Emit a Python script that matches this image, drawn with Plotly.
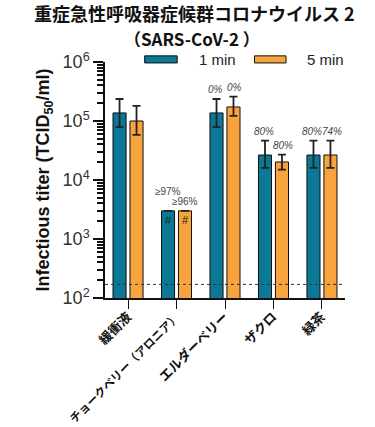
import math
import plotly.graph_objects as go

categories = ["緩衝液", "チョークベリー（アロニア）", "エルダーベリー", "ザクロ", "緑茶"]
series_names = ["1 min", "5 min"]
titer_1min = [1.37e5, 3.0e3, 1.37e5, 2.65e4, 2.65e4]
titer_5min = [1.0e5, 3.0e3, 1.73e5, 2.02e4, 2.65e4]
err_hi_1min = [2.36e5, None, 2.36e5, 4.65e4, 4.65e4]
err_lo_1min = [7.9e4, None, 7.9e4, 1.6e4, 1.6e4]
err_hi_5min = [1.8e5, None, 2.58e5, 2.7e4, 4.65e4]
err_lo_5min = [5.8e4, None, 1.22e5, 1.5e4, 1.6e4]
pct_1min = ["", "≥97%", "0%", "80%", "80%"]
pct_5min = ["", "≥96%", "0%", "80%", "74%"]
bar_marks_1min = ["", "#", "", "", ""]
bar_marks_5min = ["", "#", "", "", ""]
detection_limit = 170
ytick_vals = [1e2, 1e3, 1e4, 1e5, 1e6]
ytick_text = ["10<sup>2</sup>", "10<sup>3</sup>", "10<sup>4</sup>", "10<sup>5</sup>", "10<sup>6</sup>"]
title_line1 = "重症急性呼吸器症候群コロナウイルス 2"
title_line2 = "（SARS-CoV-2 ）"

teal = "#0B7895"
orange = "#F8A33C"

def errs(vals, hi, lo):
    plus = [(h - v) if h is not None else 0 for v, h in zip(vals, hi)]
    minus = [(v - l) if l is not None else 0 for v, l in zip(vals, lo)]
    return plus, minus

fig = go.Figure()
for name, vals, hi, lo, col in [
    (series_names[0], titer_1min, err_hi_1min, err_lo_1min, teal),
    (series_names[1], titer_5min, err_hi_5min, err_lo_5min, orange),
]:
    plus, minus = errs(vals, hi, lo)
    fig.add_trace(go.Bar(
        x=categories, y=vals, name=name,
        marker=dict(color=col, line=dict(color="#111111", width=1)),
        error_y=dict(type="data", symmetric=False, array=plus, arrayminus=minus,
                     color="#222222", thickness=1.8, width=4),
        showlegend=False,
    ))

# percentage annotations and "#" marks
for vals, hi, pcts, marks, off, xs in [
    (titer_1min, err_hi_1min, pct_1min, bar_marks_1min, -0.175, -1.5),
    (titer_5min, err_hi_5min, pct_5min, bar_marks_5min, 0.175, 1.5),
]:
    for i, (v, h, p, m) in enumerate(zip(vals, hi, pcts, marks)):
        y = h if h is not None else v
        if p:
            ge = p.startswith("≥")
            shift = 2
            if p == "≥97%":
                shift = 12
            fig.add_annotation(
                x=i + off, y=math.log10(y), text=p if ge else "<i>" + p + "</i>",
                showarrow=False, yanchor="bottom", yshift=shift, xshift=0 if ge else xs,
                font=dict(family="Arial", size=10, color="#444444"),
            )
        if m:
            fig.add_annotation(
                x=i + off, y=math.log10(v), text=m, showarrow=False,
                yanchor="top", yshift=-1,
                font=dict(family="Arial", size=11, color="#222222"),
            )

fig.add_hline(y=detection_limit, line=dict(color="#333333", width=1, dash="dot"))

# custom legend
fig.add_shape(type="rect", xref="paper", yref="paper", x0=(144 - 105) / 236, x1=(176 - 105) / 236,
              y0=0.996, y1=1.026, fillcolor=teal, line=dict(color="#111111", width=1))
fig.add_shape(type="rect", xref="paper", yref="paper", x0=(252 - 105) / 236, x1=(283 - 105) / 236,
              y0=0.996, y1=1.026, fillcolor=orange, line=dict(color="#111111", width=1))
fig.add_annotation(xref="paper", yref="paper", x=(195 - 105) / 236, y=1.01, text=series_names[0],
                   showarrow=False, xanchor="left", yanchor="middle",
                   font=dict(family="Arial", size=15, color="#222222"))
fig.add_annotation(xref="paper", yref="paper", x=(302 - 105) / 236, y=1.01, text=series_names[1],
                   showarrow=False, xanchor="left", yanchor="middle",
                   font=dict(family="Arial", size=15, color="#222222"))

# title lines
fig.add_annotation(xref="paper", yref="paper", x=(193 - 105) / 236, y=1 + (62 - 13) / 236,
                   text="<b>" + title_line1 + "</b>", showarrow=False, xanchor="center", yanchor="middle",
                   font=dict(family="Noto Sans CJK JP", size=18, color="#111111"))
fig.add_annotation(xref="paper", yref="paper", x=(191 - 105) / 236, y=1 + (62 - 38.5) / 236,
                   text="<b>" + title_line2 + "</b>", showarrow=False, xanchor="center", yanchor="middle",
                   font=dict(family="Noto Sans CJK JP", size=17, color="#111111"))

tick_sizes = [13, None, 13, 13, 13]
tick_text_x = [('<span style="font-size:%spx">%s</span>' % (s, c)) if s else c
               for s, c in zip(tick_sizes, categories)]

fig.update_layout(
    width=375, height=427,
    margin=dict(l=105, r=30, t=62, b=129, autoexpand=False),
    paper_bgcolor="white", plot_bgcolor="white",
    barmode="group", bargap=0.3, bargroupgap=0.23,
    font=dict(family="Arial"),
)
fig.update_xaxes(
    showline=True, linecolor="#111111", linewidth=1.5,
    ticks="outside", ticklen=9, tickcolor="#111111", tickwidth=1.2,
    tickangle=-45, range=[-0.475, 4.475], automargin=False,
    tickvals=categories, ticktext=tick_text_x, ticklabelstandoff=-3,
    tickfont=dict(family="Noto Sans CJK JP", size=11.5, color="#111111", weight="bold"),
)
fig.update_yaxes(
    type="log", range=[2, 6], showline=True, linecolor="#111111", linewidth=1.5,
    showgrid=False, zeroline=False, automargin=False,
    tickvals=ytick_vals, ticktext=ytick_text,
    ticks="outside", ticklen=10, tickcolor="#111111", tickwidth=1.5,
    minor=dict(ticks="outside", ticklen=6, tickcolor="#111111", dtick="D1", showgrid=False),
    tickfont=dict(family="Arial", size=18, color="#333333"),
    title=dict(text="<b>Infectious titer (TCID<sub>50</sub>/ml)</b>",
               font=dict(family="Arial", size=18, color="#111111"), standoff=8),
)

fig.write_html("out.html", config={"displayModeBar": False},
               post_script="document.body.style.margin='0';")
